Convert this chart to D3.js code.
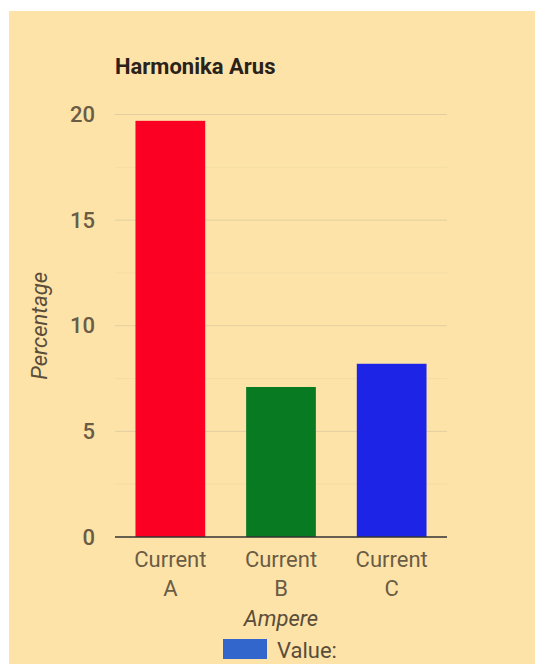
<!DOCTYPE html>
<html>
<head>
<meta charset="utf-8">
<script src="https://cdn.jsdelivr.net/npm/d3@7"></script>
<style>
  html, body { margin: 0; padding: 0; background: #ffffff; }
  svg { display: block; font-family: Roboto, "Noto Sans", sans-serif; }
</style>
</head>
<body>
<svg id="chart" width="537" height="664"></svg>
<script>
// Harmonic current percentages per phase
const categories = ["Current A", "Current B", "Current C"];
const values = [19.7, 7.1, 8.2];
const barColors = ["#fc0023", "#087b22", "#1d24e6"];
const yTicks = [0, 5, 10, 15, 20];
const yMinorTicks = [2.5, 7.5, 12.5, 17.5];
const seriesName = "Value:";

const svg = d3.select("#chart");
const W = 537, H = 664;
const FONT = 22;

// Panel background
svg.append("rect")
  .attr("x", 9).attr("y", 11)
  .attr("width", 526).attr("height", H - 11)
  .attr("fill", "#fde3a8");

const plot = { left: 115, right: 447, top: 114.5, bottom: 537 };

const x = d3.scaleBand()
  .domain(categories)
  .range([plot.left, plot.right])
  .paddingInner(0.37)
  .paddingOuter(0.185);

const y = d3.scaleLinear()
  .domain([0, 20])
  .range([plot.bottom, plot.top]);

// Gridlines
svg.append("g")
  .selectAll("line.minor")
  .data(yMinorTicks)
  .join("line")
  .attr("x1", plot.left).attr("x2", plot.right)
  .attr("y1", d => y(d)).attr("y2", d => y(d))
  .attr("stroke", "#f3dca4").attr("stroke-width", 1);

svg.append("g")
  .selectAll("line.major")
  .data(yTicks.filter(d => d !== 0))
  .join("line")
  .attr("x1", plot.left).attr("x2", plot.right)
  .attr("y1", d => y(d)).attr("y2", d => y(d))
  .attr("stroke", "#e2cfa0").attr("stroke-width", 1);

// Y axis tick labels
const yAxis = d3.axisLeft(y).tickValues(yTicks).tickSize(0).tickPadding(20);
const gy = svg.append("g")
  .attr("transform", `translate(${plot.left},0)`)
  .call(yAxis);
gy.select(".domain").remove();
gy.selectAll("text")
  .attr("fill", "#6a5c45")
  .attr("font-size", FONT)
  .attr("font-weight", 500)
  .attr("font-family", "Roboto, sans-serif");

// Bars
svg.append("g")
  .selectAll("rect")
  .data(values)
  .join("rect")
  .attr("x", (d, i) => x(categories[i]))
  .attr("y", d => y(d))
  .attr("width", x.bandwidth())
  .attr("height", d => y(0) - y(d))
  .attr("fill", (d, i) => barColors[i]);

// Baseline
svg.append("line")
  .attr("x1", plot.left).attr("x2", plot.right)
  .attr("y1", y(0)).attr("y2", y(0))
  .attr("stroke", "#333333").attr("stroke-width", 1.5);

// X axis labels, wrapped on two lines
const gx = svg.append("g");
categories.forEach(c => {
  const parts = c.split(" ");
  const cx = x(c) + x.bandwidth() / 2;
  parts.forEach((p, j) => {
    gx.append("text")
      .attr("x", cx)
      .attr("y", 567 + j * 29)
      .attr("text-anchor", "middle")
      .attr("fill", "#6a5c45")
      .attr("font-size", FONT)
      .text(p);
  });
});

// Title
svg.append("text")
  .attr("x", 115).attr("y", 74)
  .attr("font-size", FONT)
  .attr("font-weight", "bold")
  .attr("fill", "#2a2118")
  .text("Harmonika Arus");

// Axis titles
svg.append("text")
  .attr("transform", `translate(47,${(plot.top + plot.bottom) / 2}) rotate(-90)`)
  .attr("text-anchor", "middle")
  .attr("font-size", FONT)
  .attr("font-style", "italic")
  .attr("fill", "#5a4d3a")
  .text("Percentage");

svg.append("text")
  .attr("x", (plot.left + plot.right) / 2).attr("y", 626)
  .attr("text-anchor", "middle")
  .attr("font-size", FONT)
  .attr("font-style", "italic")
  .attr("fill", "#5a4d3a")
  .text("Ampere");

// Legend
svg.append("rect")
  .attr("x", 223).attr("y", 639)
  .attr("width", 44).attr("height", 20)
  .attr("fill", "#3366cc");
svg.append("text")
  .attr("x", 277).attr("y", 658)
  .attr("font-size", FONT)
  .attr("fill", "#5a4d3a")
  .text(seriesName);
</script>
</body>
</html>
